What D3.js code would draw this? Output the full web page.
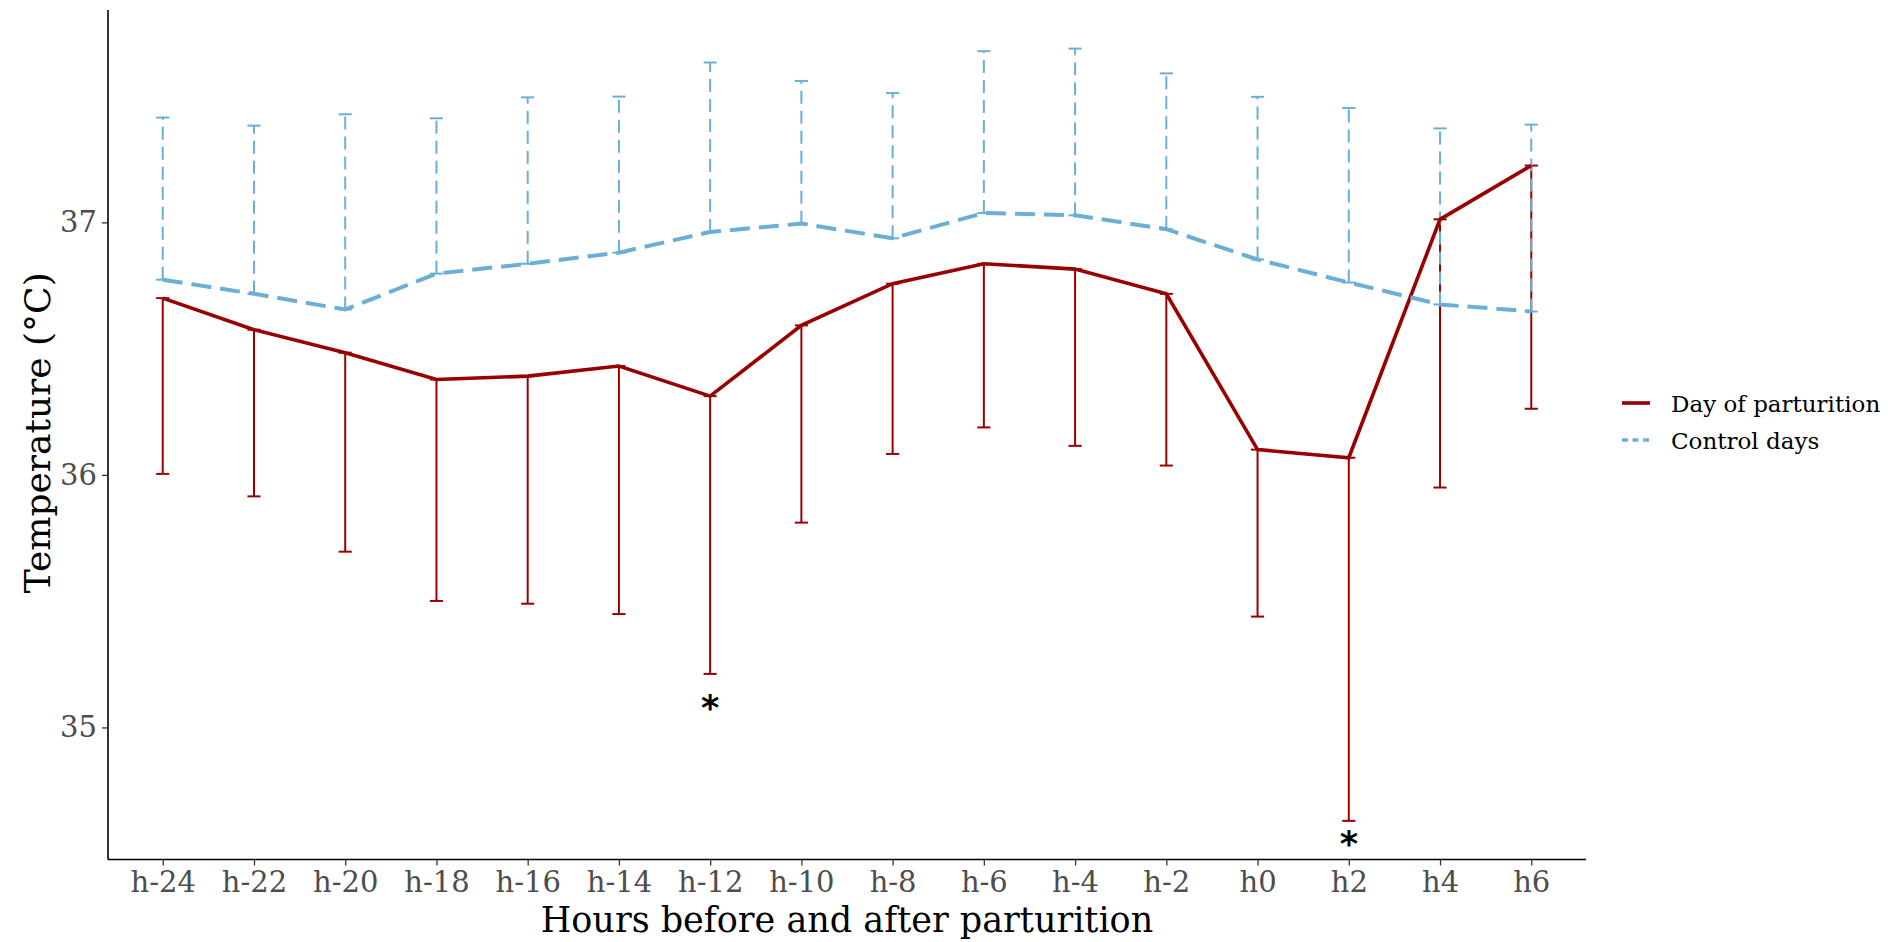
<!DOCTYPE html>
<html lang="en">
<head>
    <meta charset="UTF-8">
    <title>Temperature around parturition</title>
    <script src="https://d3js.org/d3.v7.min.js"></script>
    <style>
        body {
            margin: 0;
            background: #fff;
        }
        text {
            font-family: "DejaVu Serif", serif;
        }
        .tick-label {
            fill: #4d4d4d;
            font-size: 29px;
        }
        .axis-title {
            fill: #000;
            font-size: 35px;
        }
        .legend-text {
            fill: #000;
            font-size: 23px;
        }
    </style>
</head>
<body>
    <svg id="chart" width="1888" height="942"></svg>
    <script>
        // Hours before / after parturition
        const hours = ["h-24", "h-22", "h-20", "h-18", "h-16", "h-14", "h-12", "h-10",
                       "h-8", "h-6", "h-4", "h-2", "h0", "h2", "h4", "h6"];

        // Day of parturition: mean and lower error bar
        const partMean = [36.70, 36.575, 36.484, 36.378, 36.391, 36.431, 36.312, 36.592,
                          36.757, 36.836, 36.815, 36.717, 36.10, 36.068, 37.012, 37.225];
        const partLower = [36.004, 35.915, 35.696, 35.501, 35.49, 35.449, 35.212, 35.811,
                           36.083, 36.188, 36.115, 36.037, 35.439, 34.630, 35.95, 36.262];

        // Control days: mean and upper error bar
        const ctrlMean = [36.773, 36.717, 36.655, 36.797, 36.836, 36.88, 36.962, 36.995,
                          36.937, 37.037, 37.028, 36.973, 36.853, 36.762, 36.675, 36.647];
        const ctrlUpper = [37.415, 37.383, 37.428, 37.412, 37.495, 37.498, 37.633, 37.56,
                           37.512, 37.678, 37.688, 37.59, 37.497, 37.453, 37.372, 37.387];

        const yTicks = [35, 36, 37];

        // significance marks
        const starHours = ["h-12", "h2"];
        const starValues = [35.09, 34.55];

        const legendLabels = ["Day of parturition", "Control days"];

        const red = "#990000";
        const blue = "#6baed6";

        const pLeft = 108, pRight = 1586, pTop = 10, pBottom = 859.5;

        const svg = d3.select("#chart");

        const x = d3.scalePoint()
            .domain(hours)
            .range([pLeft, pRight])
            .padding(0.6);

        // ggplot-like 5% expansion
        const lo = d3.min(partLower), hi = d3.max(ctrlUpper);
        const pad = (hi - lo) * 0.05;
        const y = d3.scaleLinear()
            .domain([lo - pad, hi + pad])
            .range([pBottom, pTop]);

        const capHalf = x.step() * 0.072;

        const part = hours.map((h, i) => ({ h, mean: partMean[i], lower: partLower[i] }));
        const ctrl = hours.map((h, i) => ({ h, mean: ctrlMean[i], upper: ctrlUpper[i] }));

        const line = d3.line().x(d => x(d.h)).y(d => y(d.mean));

        // red error bars (drawn first)
        const redBars = svg.append("g")
            .attr("stroke", red)
            .attr("stroke-width", 2)
            .attr("fill", "none");
        part.forEach(d => {
            redBars.append("line")
                .attr("x1", x(d.h)).attr("x2", x(d.h))
                .attr("y1", y(d.mean)).attr("y2", y(d.lower));
            [d.mean, d.lower].forEach(v => {
                redBars.append("line")
                    .attr("x1", x(d.h) - capHalf).attr("x2", x(d.h) + capHalf)
                    .attr("y1", y(v)).attr("y2", y(v));
            });
        });

        // blue error bars (dashed)
        const blueBars = svg.append("g")
            .attr("stroke", blue)
            .attr("stroke-width", 2)
            .attr("fill", "none");
        ctrl.forEach(d => {
            blueBars.append("line")
                .attr("x1", x(d.h)).attr("x2", x(d.h))
                .attr("y1", y(d.mean)).attr("y2", y(d.upper))
                .attr("stroke-dasharray", "13 7");
            [d.mean, d.upper].forEach(v => {
                blueBars.append("line")
                    .attr("x1", x(d.h) - capHalf).attr("x2", x(d.h) + capHalf)
                    .attr("y1", y(v)).attr("y2", y(v));
            });
        });

        // mean lines
        svg.append("path")
            .datum(part)
            .attr("d", line)
            .attr("fill", "none")
            .attr("stroke", red)
            .attr("stroke-width", 3.6);

        svg.append("path")
            .datum(ctrl)
            .attr("d", line)
            .attr("fill", "none")
            .attr("stroke", blue)
            .attr("stroke-width", 4)
            .attr("stroke-dasharray", "20 9");

        // asterisks
        starHours.forEach((h, i) => {
            svg.append("text")
                .attr("x", x(h))
                .attr("y", y(starValues[i]) + 15)
                .attr("text-anchor", "middle")
                .style("font-family", "'DejaVu Sans', sans-serif")
                .style("font-weight", "bold")
                .style("font-size", "35px")
                .text("*");
        });

        // axes
        const xAxis = svg.append("g")
            .attr("transform", `translate(0,${pBottom})`)
            .call(d3.axisBottom(x).tickSize(6).tickPadding(6).tickSizeOuter(0));
        xAxis.select(".domain").attr("d", `M${pLeft},0H${pRight}`).attr("stroke", "#000").attr("stroke-width", 1.6);
        xAxis.selectAll(".tick line").attr("stroke", "#333").attr("stroke-width", 1.3);
        xAxis.selectAll(".tick text").attr("class", "tick-label").attr("font-family", null).attr("font-size", null).attr("fill", null);

        const yAxis = svg.append("g")
            .attr("transform", `translate(${pLeft},0)`)
            .call(d3.axisLeft(y).tickValues(yTicks).tickFormat(d3.format("d")).tickSize(6).tickPadding(5).tickSizeOuter(0));
        yAxis.select(".domain").attr("d", `M0,${pTop}V${pBottom}`).attr("stroke", "#000").attr("stroke-width", 1.6);
        yAxis.selectAll(".tick line").attr("stroke", "#333").attr("stroke-width", 1.3);
        yAxis.selectAll(".tick text").attr("class", "tick-label").attr("font-family", null).attr("font-size", null).attr("fill", null);

        // axis titles
        svg.append("text")
            .attr("class", "axis-title")
            .attr("x", (pLeft + pRight) / 2)
            .attr("y", 932)
            .attr("text-anchor", "middle")
            .text("Hours before and after parturition");

        svg.append("text")
            .attr("class", "axis-title")
            .attr("transform", `translate(50,${(pTop + pBottom) / 2 - 2}) rotate(-90)`)
            .attr("text-anchor", "middle")
            .style("font-size", "36px")
            .text("Temperature (°C)");

        // legend
        const legend = svg.append("g").attr("transform", "translate(1622,403)");
        legendLabels.forEach((lab, i) => {
            const g = legend.append("g").attr("transform", `translate(0,${i * 37})`);
            g.append("line")
                .attr("x1", 0).attr("x2", 28)
                .attr("stroke", i === 0 ? red : blue)
                .attr("stroke-width", 3.6)
                .attr("stroke-dasharray", i === 0 ? null : "6 4.5");
            g.append("text")
                .attr("class", "legend-text")
                .attr("x", 49)
                .attr("y", 8.5)
                .text(lab);
        });
    </script>
</body>
</html>
